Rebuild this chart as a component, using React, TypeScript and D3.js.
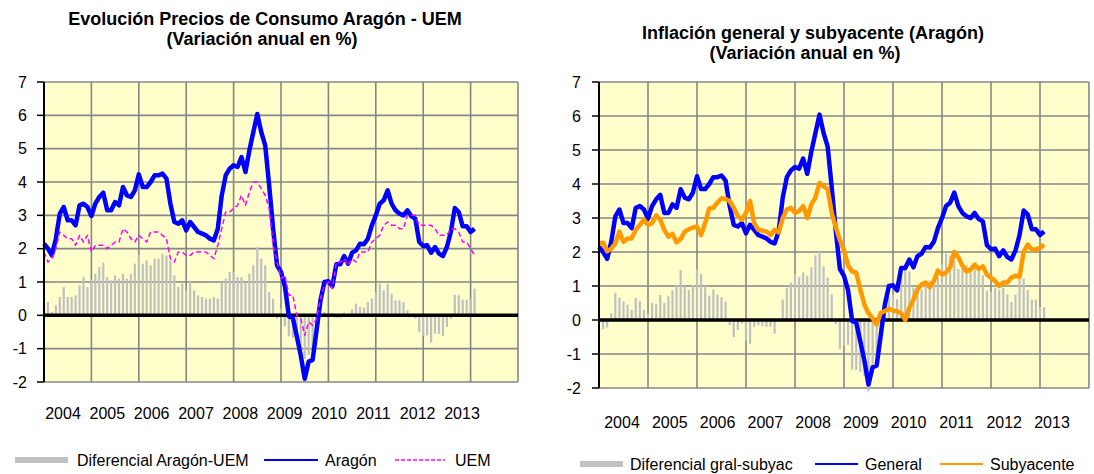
import React from 'react';
import * as d3 from 'd3';

// monthly values, Jan 2004 .. Feb 2013 (% annual change)
const aragon = [
  2.15, 2.0, 1.8, 2.3, 3.05, 3.25, 2.85, 2.85, 2.7, 3.3,
  3.35, 3.25, 2.98, 3.35, 3.55, 3.68, 3.15, 3.15, 3.4, 3.3,
  3.85, 3.6, 3.55, 3.75, 4.23, 3.85, 3.85, 4.0, 4.2, 4.2,
  4.25, 4.1, 3.35, 2.8, 2.75, 2.85, 2.55, 2.8, 2.65, 2.5,
  2.45, 2.4, 2.3, 2.25, 2.6, 3.6, 4.2, 4.4, 4.5, 4.45,
  4.75, 4.3, 4.95, 5.5, 6.04, 5.5, 5.1, 3.9, 2.6, 1.5,
  1.3, 0.87, -0.03, -0.08, -0.63, -1.2, -1.9, -1.39, -1.34, -0.45,
  0.45, 1.0, 1.02, 0.87, 1.53, 1.53, 1.78, 1.55, 1.88, 1.95,
  2.15, 2.13, 2.3, 2.7, 3.0, 3.35, 3.45, 3.75, 3.35, 3.15,
  3.05, 3.0, 3.15, 2.97, 2.9, 2.2, 2.08, 2.1, 1.88, 2.05,
  1.85, 1.78, 2.05, 2.5, 3.22, 3.1, 2.67, 2.67, 2.5, 2.6,
];

const uem = [
  1.9, 1.6, 1.7, 2.0, 2.5, 2.4, 2.3, 2.3, 2.1, 2.4,
  2.2, 2.4, 1.9, 2.1, 2.1, 2.1, 2.0, 2.1, 2.2, 2.2,
  2.6, 2.5, 2.3, 2.2, 2.4, 2.3, 2.2, 2.5, 2.5, 2.5,
  2.4, 2.3, 1.7, 1.6, 1.9, 1.9, 1.8, 1.8, 1.9, 1.9,
  1.9, 1.9, 1.8, 1.7, 2.1, 2.6, 3.1, 3.1, 3.2, 3.3,
  3.6, 3.3, 3.7, 4.0, 4.0, 3.8, 3.6, 3.2, 2.1, 1.6,
  1.1, 1.2, 0.6, 0.6, 0.0, -0.1, -0.6, -0.2, -0.3, -0.1,
  0.5, 0.9, 1.0, 0.8, 1.6, 1.6, 1.7, 1.5, 1.7, 1.6,
  1.9, 1.9, 1.9, 2.2, 2.3, 2.4, 2.7, 2.8, 2.7, 2.7,
  2.6, 2.6, 3.0, 3.0, 3.0, 2.7, 2.7, 2.7, 2.7, 2.6,
  2.4, 2.4, 2.4, 2.6, 2.6, 2.5, 2.2, 2.2, 2.0, 1.8,
];

const difAragonUem = [
  0.25, 0.4, 0.1, 0.3, 0.55, 0.85, 0.55, 0.55, 0.6, 0.9,
  1.15, 0.85, 1.08, 1.25, 1.45, 1.58, 1.15, 1.05, 1.2, 1.1,
  1.25, 1.1, 1.25, 1.55, 1.83, 1.55, 1.65, 1.5, 1.7, 1.7,
  1.85, 1.8, 1.65, 1.2, 0.85, 0.95, 0.75, 1.0, 0.75, 0.6,
  0.55, 0.5, 0.5, 0.55, 0.5, 1.0, 1.1, 1.3, 1.3, 1.15,
  1.15, 1.0, 1.25, 1.5, 2.04, 1.7, 1.5, 0.7, 0.5, -0.1,
  0.2, -0.33, -0.63, -0.68, -0.63, -1.1, -1.3, -1.19, -1.04, -0.35,
  -0.05, 0.1, 0.02, 0.07, -0.07, -0.07, 0.08, 0.05, 0.18, 0.35,
  0.25, 0.23, 0.4, 0.5, 0.7, 0.95, 0.75, 0.95, 0.65, 0.45,
  0.45, 0.4, 0.15, -0.03, -0.1, -0.5, -0.62, -0.6, -0.82, -0.55,
  -0.55, -0.62, -0.35, -0.1, 0.62, 0.6, 0.47, 0.47, 0.5, 0.8,
];

const subyacente = [
  2.25, 2.27, 2.02, 2.1, 2.25, 2.6, 2.3, 2.4, 2.4, 2.65,
  2.8, 2.95, 2.8, 2.85, 3.08, 2.95, 2.65, 2.45, 2.53, 2.28,
  2.38, 2.6, 2.67, 2.72, 2.75, 2.5, 2.85, 3.28, 3.3, 3.45,
  3.58, 3.56, 3.5, 3.3, 3.05, 2.95, 3.15, 3.5, 2.85, 2.65,
  2.63, 2.6, 2.5, 2.65, 2.58, 3.0, 3.25, 3.3, 3.15, 3.2,
  3.35, 3.0, 3.4, 3.6, 4.03, 3.93, 3.85, 3.15, 2.72, 2.35,
  2.05, 1.6, 1.43, 1.39, 0.9, 0.45, 0.2, 0.05, -0.13, 0.21,
  0.26, 0.33, 0.28, 0.26, 0.2, 0.0, 0.35, 0.6, 0.9, 1.05,
  1.1, 0.97, 1.15, 1.45, 1.34, 1.4, 1.55, 2.0, 1.85, 1.6,
  1.43, 1.48, 1.63, 1.5, 1.58, 1.34, 1.24, 1.15, 1.0, 1.1,
  1.1, 1.25, 1.3, 1.27, 2.0, 2.22, 2.07, 2.07, 2.12, 2.22,
];

const difGralSubyac = [
  -0.1, -0.27, -0.22, 0.2, 0.8, 0.65, 0.55, 0.45, 0.3, 0.65,
  0.55, 0.3, 0.18, 0.5, 0.47, 0.73, 0.5, 0.7, 0.87, 1.02,
  1.47, 1.0, 0.88, 1.03, 1.48, 1.35, 1.0, 0.72, 0.9, 0.75,
  0.67, 0.54, -0.15, -0.5, -0.3, -0.1, -0.6, -0.7, -0.2, -0.15,
  -0.18, -0.2, -0.2, -0.4, 0.02, 0.6, 0.95, 1.1, 1.35, 1.25,
  1.4, 1.3, 1.55, 1.9, 2.01, 1.57, 1.25, 0.75, -0.12, -0.85,
  -0.75, -0.73, -1.46, -1.47, -1.53, -1.65, -2.1, -1.44, -1.21, -0.66,
  0.19, 0.67, 0.74, 0.61, 1.33, 1.53, 1.43, 0.95, 0.98, 0.9,
  1.05, 1.16, 1.15, 1.25, 1.66, 1.95, 1.9, 1.75, 1.5, 1.55,
  1.62, 1.52, 1.52, 1.47, 1.32, 0.86, 0.84, 0.95, 0.88, 0.95,
  0.75, 0.53, 0.75, 1.23, 1.22, 0.88, 0.6, 0.6, 0.38, 0.38,
];

const years = ['2004', '2005', '2006', '2007', '2008', '2009', '2010', '2011', '2012', '2013'];
const yTicks = [-2, -1, 0, 1, 2, 3, 4, 5, 6, 7];

const FONT = '"Liberation Sans", Arial, sans-serif';
const GRID = '#868686';

const Panel = ({box, titles, yearRange, yearY, tickLabelX, bars, lines, legend}) => {
  const x = d3.scaleLinear().domain([0, years.length * 12]).range([box.left, box.right]);
  const y = d3.scaleLinear().domain([-2, 7]).range([box.bottom, box.top]);
  const yearPos = d3.scalePoint().domain(years).range(yearRange);
  const barW = 2.2;

  return (
    <g>
      {titles.map(t => (
        <text key={t.text} x={t.x} y={t.y} textAnchor="middle" fontFamily={FONT}
              fontWeight="bold" fontSize={18}>{t.text}</text>
      ))}
      <rect x={box.left} y={box.top} width={box.right - box.left} height={box.bottom - box.top}
            fill="#FFFFCC"/>
      {/* grid */}
      {yTicks.map(t => (
        <line key={'h' + t} x1={box.left} x2={box.right} y1={y(t)} y2={y(t)} stroke={GRID} strokeWidth={1.6}/>
      ))}
      {d3.range(1, years.length + 1).map(i => (
        <line key={'v' + i} x1={x(i * 12)} x2={x(i * 12)} y1={box.top} y2={box.bottom} stroke={GRID} strokeWidth={1.6}/>
      ))}
      {/* bars */}
      {bars.map((d, i) => (
        <rect key={'b' + i} x={x(i) - barW / 2} width={barW}
              y={y(Math.max(0, d))} height={Math.abs(y(d) - y(0))} fill="#C0C0C0"/>
      ))}
      <line x1={box.left} x2={box.right} y1={y(0)} y2={y(0)} stroke="#000" strokeWidth={3.5}/>
      {lines.map(l => (
        <path key={l.name}
              d={d3.line().x((d, i) => x(i)).y(d => y(d))(l.values)}
              fill="none" stroke={l.color} strokeWidth={l.width} strokeDasharray={l.dash}
              strokeLinejoin="round"/>
      ))}
      {/* y axis */}
      <line x1={box.left} x2={box.left} y1={box.top} y2={box.bottom} stroke="#000" strokeWidth={2}/>
      {yTicks.map(t => (
        <g key={'t' + t}>
          <line x1={box.left - 7} x2={box.left} y1={y(t)} y2={y(t)} stroke="#000" strokeWidth={1.5}/>
          <text x={tickLabelX} y={y(t)} dy="0.35em" textAnchor="end" fontFamily={FONT} fontSize={16}>{t}</text>
        </g>
      ))}
      {years.map(yr => (
        <text key={yr} x={yearPos(yr)} y={yearY} textAnchor="middle" fontFamily={FONT} fontSize={16}>{yr}</text>
      ))}
      {/* legend */}
      {legend.items.map(it => (
        <g key={it.label}>
          {it.kind === 'bar'
            ? <rect x={it.x0} y={legend.y - 3} width={it.x1 - it.x0} height={6} fill="#C0C0C0"/>
            : <line x1={it.x0} x2={it.x1} y1={legend.y} y2={legend.y} stroke={it.color}
                    strokeWidth={it.width} strokeDasharray={it.dash}/>}
          <text x={it.tx} y={legend.y} dy="0.35em" fontFamily={FONT} fontSize={16}>{it.label}</text>
        </g>
      ))}
    </g>
  );
};

export default function App() {
  return (
    <svg width={1094} height={474} style={{display: 'block', position: 'absolute', left: 0, top: 0, background: '#fff'}}>
      <Panel
        box={{left: 44, right: 518, top: 82, bottom: 382}}
        titles={[
          {text: 'Evolución Precios de Consumo Aragón - UEM', x: 265, y: 25},
          {text: '(Variación anual en %)', x: 262, y: 45},
        ]}
        yearRange={[63, 462]}
        yearY={419}
        tickLabelX={27}
        bars={difAragonUem}
        lines={[
          {name: 'Aragón', values: aragon, color: '#0000FF', width: 4.5},
          {name: 'UEM', values: uem, color: '#FF00FF', width: 1.5, dash: '5,3'},
        ]}
        legend={{
          y: 460,
          items: [
            {kind: 'bar', label: 'Diferencial Aragón-UEM', x0: 15, x1: 68, tx: 77},
            {kind: 'line', label: 'Aragón', x0: 264, x1: 318, tx: 325, color: '#0000FF', width: 2},
            {kind: 'line', label: 'UEM', x0: 395, x1: 445, tx: 455, color: '#FF00FF', width: 1.5, dash: '4,2'},
          ],
        }}
      />
      <Panel
        box={{left: 599, right: 1089, top: 82, bottom: 388}}
        titles={[
          {text: 'Inflación general y subyacente (Aragón)', x: 813, y: 39},
          {text: '(Variación anual en %)', x: 805, y: 59},
        ]}
        yearRange={[622, 1052]}
        yearY={428}
        tickLabelX={581}
        bars={difGralSubyac}
        lines={[
          {name: 'General', values: aragon, color: '#0000FF', width: 4.5},
          {name: 'Subyacente', values: subyacente, color: '#FF9900', width: 4.5},
        ]}
        legend={{
          y: 464,
          items: [
            {kind: 'bar', label: 'Diferencial gral-subyac', x0: 580, x1: 623, tx: 630},
            {kind: 'line', label: 'General', x0: 815, x1: 858, tx: 865, color: '#0000FF', width: 2},
            {kind: 'line', label: 'Subyacente', x0: 940, x1: 983, tx: 990, color: '#FF9900', width: 2},
          ],
        }}
      />
    </svg>
  );
}
